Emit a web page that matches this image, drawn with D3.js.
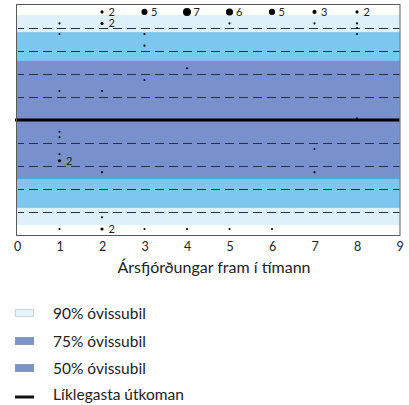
<!DOCTYPE html>
<html>
<head>
<meta charset="utf-8">
<script src="https://cdn.jsdelivr.net/npm/d3@7"></script>
<style>
  html, body { margin: 0; padding: 0; background: #fff; }
  svg { display: block; font-family: Lato, "Open Sans", sans-serif; }
</style>
</head>
<body>
<svg id="chart" width="409" height="405"></svg>
<script>
// ---- data ----
const xTicks = [0, 1, 2, 3, 4, 5, 6, 7, 8, 9];
const gridLevels = [-4, -3, -2, -1, 1, 2, 3, 4];
const bandNames = ["90% óvissubil", "75% óvissubil", "50% óvissubil"];
const bandLimits = [4.57, 3.82, 2.55];
const bandColors = ["#def0fa", "#7dc6ee", "#7890cb"];
const legendColors = ["#e6f4fc", "#7b93cc", "#7b93cc"];
const lineName = "Líklegasta útkoman";
const axisTitle = "Ársfjórðungar fram í tímann";

const pointQuarter = [2, 3, 4, 5, 6, 7, 8, 1, 2, 5, 7, 8, 8, 1, 3, 8, 3, 4, 3, 1, 2, 8,
                      1, 1, 7, 1, 1, 2, 7, 2, 1, 2, 3, 4, 5, 6];
const pointValue = [4.7, 4.7, 4.7, 4.7, 4.7, 4.7, 4.7, 4.2, 4.2, 4.2, 4.2, 4.2, 4.0, 3.74, 3.74, 3.74,
                    3.23, 2.25, 1.74, 1.26, 1.26, 0.07, -0.51, -0.75, -1.26, -1.49, -1.77, -2.27,
                    -2.27, -4.23, -4.74, -4.74, -4.74, -4.74, -4.74, -4.74];
const pointCount = [2, 5, 7, 6, 5, 3, 2, 1, 2, 1, 1, 1, 1, 1, 1, 1, 1, 1, 1, 1, 1, 1,
                    1, 1, 1, 1, 2, 1, 1, 1, 1, 2, 1, 1, 1, 1];

// ---- layout ----
const svg = d3.select("#chart");
const pLeft = 17, pRight = 399.5, pTop = 5, pBottom = 235;
const x = d3.scaleLinear().domain([0, 9]).range([pLeft, pRight]);
const y = d3.scaleLinear().domain([-5, 5]).range([pBottom, pTop]);
const r = d3.scaleLinear().domain([1, 7]).range([1.1, 4]);

// background
svg.append("rect").attr("x", pLeft).attr("y", pTop)
  .attr("width", pRight - pLeft).attr("height", pBottom - pTop).attr("fill", "#fff");

// bands
bandLimits.forEach((lim, i) => {
  svg.append("rect")
    .attr("x", pLeft).attr("width", pRight - pLeft)
    .attr("y", y(lim)).attr("height", y(-lim) - y(lim))
    .attr("fill", bandColors[i]);
});
// thin edge between medium and dark band
[bandLimits[2], -bandLimits[2]].forEach(v => {
  svg.append("line").attr("x1", pLeft).attr("x2", pRight)
    .attr("y1", y(v)).attr("y2", y(v))
    .attr("stroke", "#4ea8e0").attr("stroke-width", 1);
});

// dashed grid
svg.append("g").selectAll("line").data(gridLevels).join("line")
  .attr("x1", pLeft + 1).attr("x2", pRight)
  .attr("y1", d => Math.round(y(d)) + 0.5).attr("y2", d => Math.round(y(d)) + 0.5)
  .attr("stroke", "#2a2f45").attr("stroke-width", 1)
  .attr("stroke-dasharray", "9,5").attr("stroke-dashoffset", 3);

// central line
svg.append("line").attr("x1", pLeft - 2).attr("x2", pRight)
  .attr("y1", y(0)).attr("y2", y(0))
  .attr("stroke", "#000").attr("stroke-width", 3);

// frame
svg.append("rect").attr("x", pLeft - 0.5).attr("y", pTop - 0.5)
  .attr("width", pRight - pLeft + 1).attr("height", pBottom - pTop + 1)
  .attr("fill", "none").attr("stroke", "#5a5a5a").attr("stroke-width", 1);

// points
const pts = pointQuarter.map((q, i) => ({ q, v: pointValue[i], c: pointCount[i] }));
svg.append("g").selectAll("circle").data(pts).join("circle")
  .attr("cx", d => x(d.q)).attr("cy", d => y(d.v))
  .attr("r", d => r(d.c)).attr("fill", "#000");
svg.append("g").selectAll("text").data(pts.filter(d => d.c > 1)).join("text")
  .attr("x", d => x(d.q) + 6.5).attr("y", d => y(d.v))
  .attr("dy", "0.36em")
  .attr("font-size", 11).attr("fill", "#222")
  .text(d => d.c);

// x axis (labels only)
const xAxis = d3.axisBottom(x).tickValues(xTicks).tickSize(0).tickPadding(7)
  .tickFormat(d3.format("d"));
const gx = svg.append("g").attr("transform", `translate(0,${pBottom})`).call(xAxis);
gx.select(".domain").remove();
gx.selectAll("text").attr("font-size", 12.5).attr("fill", "#222")
  .attr("font-family", "Lato, 'Open Sans', sans-serif");

svg.append("text").attr("x", 214).attr("y", 273)
  .attr("text-anchor", "middle").attr("font-size", 16).attr("fill", "#222")
  .text(axisTitle);

// legend
const legY = [313, 341, 368];
bandNames.forEach((name, i) => {
  svg.append("rect").attr("x", 15.5).attr("y", legY[i] - 3.5)
    .attr("width", 18).attr("height", 7)
    .attr("fill", legendColors[i])
    .attr("stroke", i === 0 ? "#c6d6e2" : "#8a97b5").attr("stroke-width", 1);
  svg.append("text").attr("x", 53).attr("y", legY[i]).attr("dy", "0.36em")
    .attr("font-size", 15.5).attr("fill", "#222").text(name);
});
svg.append("line").attr("x1", 15).attr("x2", 34).attr("y1", 397).attr("y2", 397)
  .attr("stroke", "#111").attr("stroke-width", 3);
svg.append("text").attr("x", 53).attr("y", 394).attr("dy", "0.36em")
  .attr("font-size", 15.5).attr("fill", "#222").text(lineName);
</script>
</body>
</html>
